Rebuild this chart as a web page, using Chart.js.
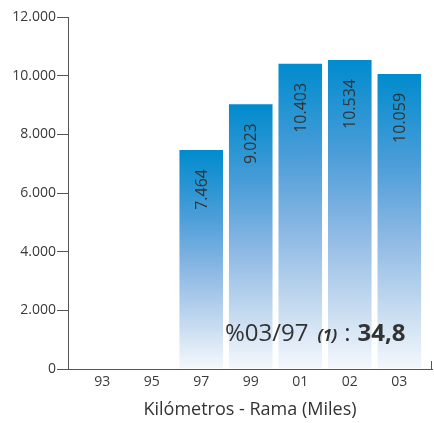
<!DOCTYPE html>
<html>
<head>
<meta charset="utf-8">
<script src="https://cdn.jsdelivr.net/npm/chart.js@4"></script>
<style>
  html, body { margin: 0; padding: 0; background: #ffffff; }
  #wrap { width: 434px; height: 423px; position: relative; }
</style>
</head>
<body>
<div id="wrap"><canvas id="c" width="434" height="423"></canvas></div>
<script>
// ---- data ----
const categories = ['93', '95', '97', '99', '01', '02', '03'];
const kmValues = [null, null, 7464, 9023, 10403, 10534, 10059];
const yTickStep = 2000;
const yMax = 12000;
const axisTitle = 'Kilómetros - Rama (Miles)';
const noteParts = ['%03/97', '(1)', ':', '34,8'];

const FONT = '"Open Sans", "Noto Sans", sans-serif';
const AXIS_COLOR = '#555555';
const TEXT_COLOR = '#3a3a3a';

function fmt(v) {
  return String(v).replace(/\B(?=(\d{3})+(?!\d))/g, '.');
}

const barGradient = (ctx) => {
  const chart = ctx.chart;
  const ys = chart.scales && chart.scales.y;
  if (!ys || ctx.type !== 'data' || !ctx.raw || ctx.raw.y == null) return '#0a8ed0';
  const top = ys.getPixelForValue(ctx.raw.y);
  const bottom = ys.getPixelForValue(0);
  const g = chart.ctx.createLinearGradient(0, top, 0, bottom);
  g.addColorStop(0, '#008bce');
  g.addColorStop(0.3, '#4a9dd8');
  g.addColorStop(0.55, '#8cb8e4');
  g.addColorStop(0.8, '#c6dbf0');
  g.addColorStop(1, '#f5f8fc');
  return g;
};

const valueLabels = {
  id: 'valueLabels',
  afterDatasetsDraw(chart) {
    const ctx = chart.ctx;
    const meta = chart.getDatasetMeta(0);
    meta.data.forEach((bar, i) => {
      const v = kmValues[i];
      if (v == null) return;
      ctx.save();
      ctx.translate(bar.x, bar.y + 19);
      ctx.rotate(-Math.PI / 2);
      ctx.font = '16px ' + FONT;
      ctx.fillStyle = '#333333';
      ctx.textAlign = 'right';
      ctx.textBaseline = 'middle';
      ctx.fillText(fmt(v), 0, 1);
      ctx.restore();
    });
  }
};

const extras = {
  id: 'extras',
  afterDraw(chart) {
    const ctx = chart.ctx;
    const ca = chart.chartArea;
    // small end tick at the right of the x axis
    ctx.save();
    ctx.strokeStyle = AXIS_COLOR;
    ctx.lineWidth = 1;
    ctx.beginPath();
    ctx.moveTo(Math.round(ca.right) - 0.5, ca.bottom);
    ctx.lineTo(Math.round(ca.right) - 0.5, ca.bottom - 8);
    ctx.stroke();
    // note text
    let x = ca.left + 157;
    const y = ca.bottom - 28;
    ctx.textBaseline = 'alphabetic';
    ctx.textAlign = 'left';
    ctx.fillStyle = '#333333';
    const fonts = ['24px ' + FONT, 'italic bold 16px ' + FONT, '24px ' + FONT, 'bold 24px ' + FONT];
    const gaps = [9, 7, 7, 0];
    noteParts.forEach((t, i) => {
      ctx.font = fonts[i];
      ctx.fillText(t, x, y);
      x += ctx.measureText(t).width + gaps[i];
    });
    ctx.restore();
  }
};

new Chart(document.getElementById('c'), {
  type: 'bar',
  data: {
    datasets: [{
      data: categories.map((c, i) => ({ x: i, y: kmValues[i] })),
      backgroundColor: barGradient,
      borderWidth: 0,
      barPercentage: 0.88,
      categoryPercentage: 1
    }]
  },
  options: {
    responsive: false,
    animation: false,
    layout: { padding: { top: 17, right: 2, left: 0, bottom: 0 } },
    plugins: { legend: { display: false }, tooltip: { enabled: false } },
    scales: {
      x: {
        type: 'linear',
        offset: false,
        min: -0.69,
        max: 6.66,
        grid: { display: false, drawTicks: false },
        border: { display: true, color: AXIS_COLOR, width: 1 },
        ticks: {
          stepSize: 1,
          includeBounds: false,
          autoSkip: false,
          maxRotation: 0,
          padding: 5,
          color: TEXT_COLOR,
          font: { family: FONT, size: 14 },
          callback: (v) => Number.isInteger(v) && categories[v] !== undefined ? categories[v] : ''
        },
        title: {
          display: true,
          text: axisTitle,
          color: '#333333',
          font: { family: FONT, size: 18 },
          padding: { top: 0, bottom: 2 }
        },
        afterFit: (s) => { s.height = 54; }
      },
      y: {
        min: 0,
        max: yMax,
        grid: { display: true, drawOnChartArea: false, drawTicks: true, tickLength: 11, color: AXIS_COLOR },
        border: { display: true, color: AXIS_COLOR, width: 1 },
        ticks: {
          stepSize: yTickStep,
          padding: 1,
          color: TEXT_COLOR,
          font: { family: FONT, size: 14 },
          callback: (v) => fmt(v)
        },
        afterFit: (s) => { s.width = 68; }
      }
    }
  },
  plugins: [valueLabels, extras]
});
</script>
</body>
</html>
